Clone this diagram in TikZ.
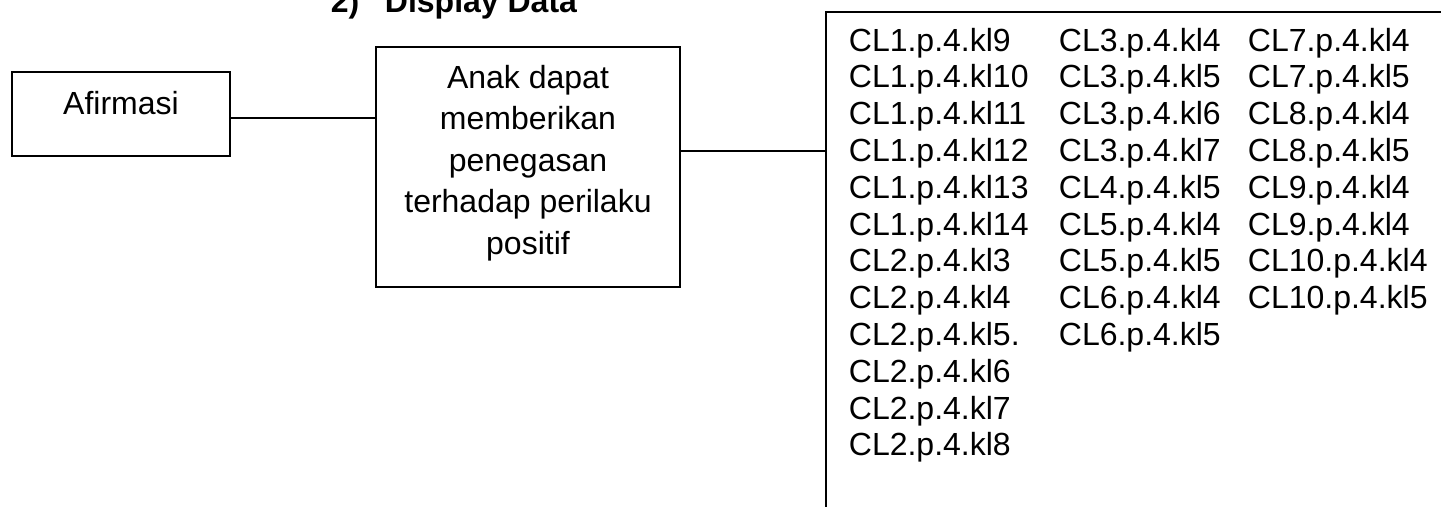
\documentclass[tikz,border=0pt]{standalone}
\usepackage{fontspec}
\setmainfont{Liberation Sans}
\usetikzlibrary{positioning}

\begin{document}
\begin{tikzpicture}[x=0.5pt, y=-0.5pt, line width=0.9pt,
  box/.style={draw, inner sep=0pt},
  txt/.style={font=\fontsize{16}{18.4}\selectfont, inner sep=0pt}]
  \useasboundingbox (0,0) rectangle (1441,507);
  % judul bagian
  \node[txt, font=\fontsize{16}{18.4}\selectfont\bfseries, anchor=base west] (judul) at (330,13) {2)\hspace{0.8em}Display Data};
  % kotak kiri, teks rata atas
  \node[box, minimum width=109pt, minimum height=42pt] (afirmasi) at (121,114) {};
  \node[txt, anchor=north] (afirmasitext) at (121,90) {Afirmasi};
  % kotak tengah, teks rata atas
  \node[box, minimum width=152pt, minimum height=120pt] (mid) at (528,167) {};
  \node[txt, font=\fontsize{16}{20.75}\selectfont, align=center, anchor=north] (midtext) at (528,64)
    {Anak dapat\\ memberikan\\ penegasan\\ terhadap perilaku\\ positif};
  % kotak kanan, terbuka ke kanan dan ke bawah
  \coordinate (listtl) at (826,12);
  \coordinate (listtr) at (1441,12);
  \coordinate (listbl) at (826,507);
  \coordinate (listjoin) at (826,151);
  \draw (listtr) -- (listtl) -- (listbl);
  \node[txt, align=left, anchor=north west] (col1) at (848,27)
    {CL1.p.4.kl9\\ CL1.p.4.kl10\\ CL1.p.4.kl11\\ CL1.p.4.kl12\\ CL1.p.4.kl13\\ CL1.p.4.kl14\\
     CL2.p.4.kl3\\ CL2.p.4.kl4\\ CL2.p.4.kl5.\\ CL2.p.4.kl6\\ CL2.p.4.kl7\\ CL2.p.4.kl8};
  \node[txt, align=left, anchor=north west] (col2) at (1058,27)
    {CL3.p.4.kl4\\ CL3.p.4.kl5\\ CL3.p.4.kl6\\ CL3.p.4.kl7\\ CL4.p.4.kl5\\ CL5.p.4.kl4\\
     CL5.p.4.kl5\\ CL6.p.4.kl4\\ CL6.p.4.kl5};
  \node[txt, align=left, anchor=north west] (col3) at (1247,27)
    {CL7.p.4.kl4\\ CL7.p.4.kl5\\ CL8.p.4.kl4\\ CL8.p.4.kl5\\ CL9.p.4.kl4\\ CL9.p.4.kl4\\
     CL10.p.4.kl4\\ CL10.p.4.kl5};
  % garis penghubung
  \coordinate (link1) at ([yshift=-2pt]afirmasi.east);
  \draw (link1) -- (link1 -| mid.west);
  \draw (mid.east |- listjoin) -- (listjoin);
\end{tikzpicture}
\end{document}
